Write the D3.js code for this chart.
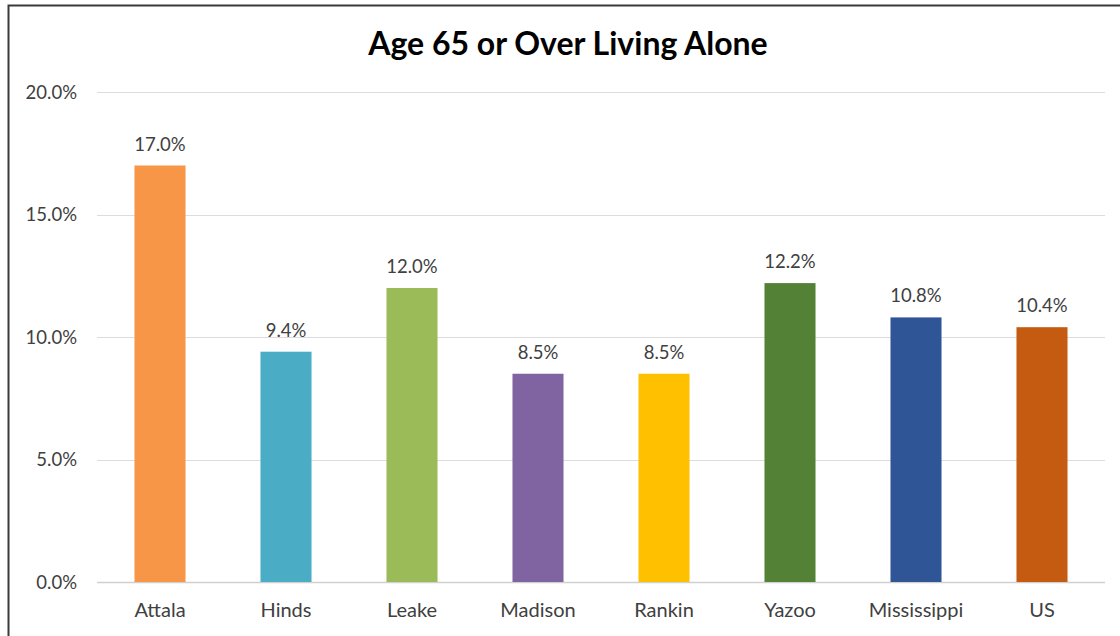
<!DOCTYPE html>
<html><head><meta charset="utf-8">
<script src="https://cdn.jsdelivr.net/npm/d3@7"></script>
<style>body{margin:0;background:#fff}svg{display:block}</style>
</head><body>
<script>
const categories = ["Attala","Hinds","Leake","Madison","Rankin","Yazoo","Mississippi","US"];
const values = [17.0, 9.4, 12.0, 8.5, 8.5, 12.2, 10.8, 10.4];
const colors = ["#F79646","#4BACC6","#9BBB59","#8064A2","#FFC000","#538135","#2F5597","#C55A11"];
const yTicks = [0, 5, 10, 15, 20];
const title = "Age 65 or Over Living Alone";

const W = 1120, H = 636;
const font = "Lato, 'Open Sans', sans-serif";
const svg = d3.select("body").append("svg").attr("width", W).attr("height", H);
svg.append("rect").attr("width", W).attr("height", H).attr("fill", "#fff");
svg.append("path").attr("d", `M8.5,${H} V5.5 H${W}`).attr("fill","none").attr("stroke","#3a3a3a").attr("stroke-width",2);

const m = {left: 97, right: 1105, top: 92, bottom: 582};
const x = d3.scaleBand().domain(categories).range([m.left, m.right]).paddingInner(0.595).paddingOuter(0.2975);
const y = d3.scaleLinear().domain([0, 20]).range([m.bottom, m.top]);

svg.append("g").selectAll("line").data(yTicks).join("line")
  .attr("x1", m.left).attr("x2", m.right)
  .attr("y1", d => Math.round(y(d)) + 0.5).attr("y2", d => Math.round(y(d)) + 0.5)
  .attr("stroke", d => d === 0 ? "#d0d0d0" : "#dcdcdc").attr("stroke-width", d => d===0?1.5:1);

const yAxis = d3.axisLeft(y).tickValues(yTicks).tickFormat(d => d.toFixed(1) + "%").tickSize(0).tickPadding(0);
const ga = svg.append("g").attr("transform", `translate(77,0)`).call(yAxis);
ga.select(".domain").remove();
ga.selectAll("text").attr("font-family", font).attr("font-size", 18.5).attr("fill", "#404040").attr("dy","0.35em");

svg.append("g").selectAll("rect").data(values).join("rect")
  .attr("x", (d,i) => x(categories[i])).attr("width", x.bandwidth())
  .attr("y", d => y(d)).attr("height", d => y(0) - y(d))
  .attr("fill", (d,i) => colors[i]);

svg.append("g").selectAll("text").data(values).join("text")
  .attr("x", (d,i) => x(categories[i]) + x.bandwidth()/2)
  .attr("y", d => y(d) - 15)
  .attr("text-anchor", "middle").attr("font-family", font).attr("font-size", 18.5).attr("fill", "#404040")
  .text(d => d.toFixed(1) + "%");

const xAxis = d3.axisBottom(x).tickSize(0).tickPadding(0);
const gx = svg.append("g").attr("transform", `translate(0,${m.bottom})`).call(xAxis);
gx.select(".domain").remove();
gx.selectAll("text").attr("font-family", font).attr("font-size", 20).attr("fill", "#404040").attr("dy", null).attr("y", 35);

svg.append("text").attr("x", 568).attr("y", 55).attr("text-anchor","middle")
  .attr("font-family", font).attr("font-weight", "bold").attr("font-size", 32).attr("fill", "#000")
  .text(title);
</script>
</body></html>
